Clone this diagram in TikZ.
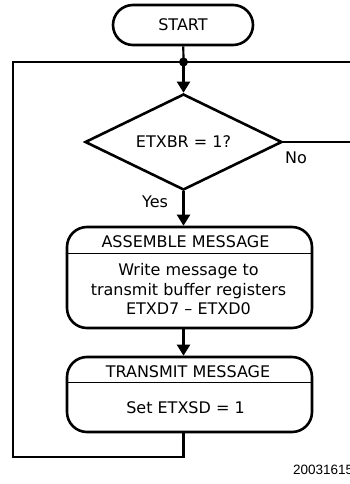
\documentclass[tikz,border=0pt]{standalone}
\usepackage{fontspec}
\setmainfont{DejaVu Sans}
\newfontfamily\fignumfont{Liberation Sans}
\usetikzlibrary{shapes.geometric,arrows.meta}
\tikzset{
  flowbox/.style={draw, line width=2.6pt, rounded corners=20pt, inner sep=0pt},
  flowline/.style={line width=2.2pt},
  flowarrow/.style={flowline, -{Triangle[length=11pt,width=13pt]}},
  flowtext/.style={inner sep=0pt, font=\fontsize{16}{19.5}\selectfont},
}
\begin{document}
\begin{tikzpicture}[x=1pt, y=-1pt]
    \useasboundingbox (0,0) rectangle (350,484) ;
    \node [flowbox, flowtext, minimum width=140pt, minimum height=40pt] (start) at (183,25) {START} ;
    \node [draw, diamond, aspect=2, line width=2.6pt, inner sep=0pt, minimum width=197pt, minimum height=96pt, flowtext] (test) at (183.5,142) {ETXBR = 1?} ;
    \node [flowbox, minimum width=245pt, minimum height=101pt] (assemble) at (189.5,277.5) {} ;
    \node [flowbox, minimum width=245pt, minimum height=75pt] (transmit) at (189.5,394.5) {} ;

    \draw [line width=1pt] (assemble.west |- 0,253) -- (assemble.east |- 0,253) ;
    \draw [line width=1pt] (transmit.west |- 0,382) -- (transmit.east |- 0,382) ;
    \node [flowtext] (assembletitle) at (185.5,242) {ASSEMBLE MESSAGE} ;
    \node [flowtext, align=center] (assemblebody) at (188.5,289.5) {Write message to\\transmit buffer registers\\ETXD7 – ETXD0} ;
    \node [flowtext] (transmittitle) at (188,372) {TRANSMIT MESSAGE} ;
    \node [flowtext] (transmitbody) at (185.5,408) {Set ETXSD = 1} ;

    \coordinate (join) at (183.5,62) ;
    \coordinate (noout) at (352,142) ;
    \coordinate (loopb) at (183.5,457) ;
    \coordinate (looptl) at (13,62) ;
    \coordinate (loopr) at (352,62) ;
    \draw [flowline] (start) -- (join) ;
    \fill (join) circle (4.5pt) ;
    \draw [flowarrow] (join) -- (test) ;
    \draw [flowline] (test.east) -- (noout) ;
    \draw [flowarrow] (test.south) -- (test.south |- assemble.north) ;
    \draw [flowarrow] (assemble.south -| test.south) -- (test.south |- transmit.north) ;
    \draw [flowline] (transmit.south -| loopb) -- (loopb) -| (looptl) -- (loopr) ;

    \node [flowtext] (yes) at (155,202) {Yes} ;
    \node [flowtext] (no) at (296,158) {No} ;
    \node [anchor=west, inner sep=0pt, font=\fignumfont\fontsize{13.5}{15}\selectfont] (fignum) at (293,470) {20031615} ;
\end{tikzpicture}
\end{document}
